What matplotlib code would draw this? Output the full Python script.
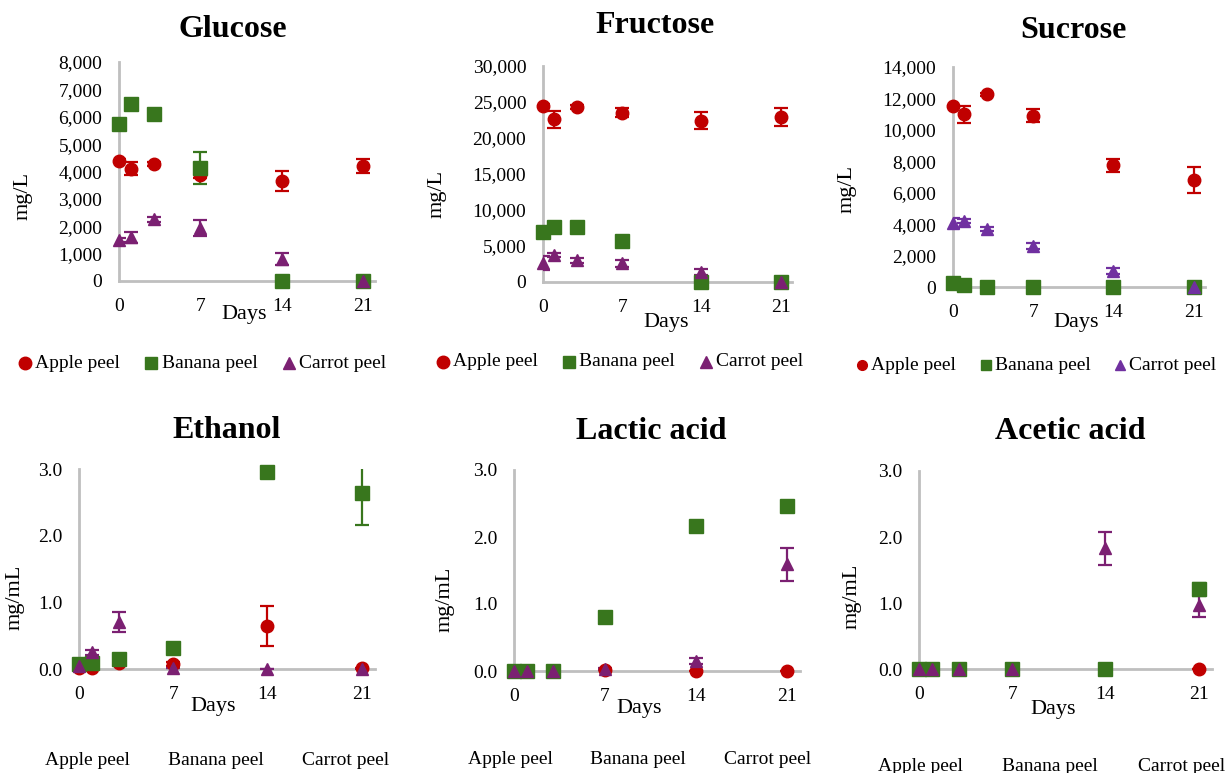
import matplotlib
matplotlib.use('Agg')
import matplotlib.pyplot as plt
from matplotlib.lines import Line2D
from matplotlib.ticker import StrMethodFormatter

plt.rcParams['font.family'] = ['Liberation Serif', 'DejaVu Serif']

days = [0, 1, 3, 7, 14, 21]
series_names = ['Apple peel', 'Banana peel', 'Carrot peel']

# Sugars, mg/L
glucose_apple = [4380, 4100, 4270, 3880, 3650, 4200]
glucose_apple_err = [60, 240, 80, 120, 350, 250]
glucose_banana = [5730, 6460, 6100, 4130, 0, 0]
glucose_banana_err = [80, 150, 60, 580, 0, 0]
glucose_carrot = [1500, 1600, 2250, 1930, 800, 0]
glucose_carrot_err = [60, 200, 100, 290, 210, 0]

fructose_apple = [24400, 22600, 24300, 23500, 22400, 22900]
fructose_apple_err = [300, 1200, 300, 600, 1150, 1200]
fructose_banana = [6900, 7700, 7600, 5700, 0, 0]
fructose_banana_err = [200, 200, 200, 200, 0, 0]
fructose_carrot = [2600, 3750, 3000, 2600, 1400, 0]
fructose_carrot_err = [950, 300, 300, 500, 400, 0]

sucrose_apple = [11500, 11000, 12270, 10900, 7750, 6800]
sucrose_apple_err = [100, 550, 100, 400, 410, 840]
sucrose_banana = [250, 100, 0, 0, 0, 0]
sucrose_banana_err = [50, 50, 0, 0, 0, 0]
sucrose_carrot = [4100, 4200, 3700, 2600, 1000, 0]
sucrose_carrot_err = [320, 100, 150, 200, 200, 0]

# Fermentation products, mg/mL
ethanol_apple = [0.01, 0.01, 0.09, 0.08, 0.645, 0.01]
ethanol_apple_err = [0.01, 0.01, 0.03, 0.03, 0.30, 0.01]
ethanol_banana = [0.07, 0.09, 0.15, 0.31, 2.95, 2.64]
ethanol_banana_err = [0.01, 0.02, 0.02, 0.02, 0.02, 0.48]
ethanol_carrot = [0.05, 0.25, 0.71, 0.01, 0.0, 0.0]
ethanol_carrot_err = [0.01, 0.04, 0.15, 0.0, 0.0, 0.0]

lactic_apple = [0.0, 0.0, 0.0, 0.01, 0.0, 0.0]
lactic_apple_err = [0, 0, 0, 0, 0, 0]
lactic_banana = [0.0, 0.0, 0.0, 0.81, 2.16, 2.46]
lactic_banana_err = [0, 0, 0, 0.03, 0.03, 0.03]
lactic_carrot = [0.0, 0.0, 0.0, 0.03, 0.15, 1.59]
lactic_carrot_err = [0, 0, 0, 0.01, 0.05, 0.25]

acetic_apple = [0.0, 0.0, 0.0, 0.0, 0.0, 0.0]
acetic_apple_err = [0, 0, 0, 0, 0, 0]
acetic_banana = [0.0, 0.0, 0.0, 0.0, 0.0, 1.21]
acetic_banana_err = [0, 0, 0, 0, 0, 0.1]
acetic_carrot = [0.0, 0.0, 0.0, 0.0, 1.83, 0.97]
acetic_carrot_err = [0, 0, 0, 0, 0.25, 0.18]

RED = '#C00000'
GREEN = '#38761D'
PURPLE = '#7B2072'
PURPLE2 = '#7030A0'
AXIS = '#BFBFBF'
W, H = 1227, 773

fig = plt.figure(figsize=(W / 100, H / 100), dpi=100)


def fx(x):
    return x / W


def fy(y):
    return 1 - y / H


panels = [
    dict(title='Glucose', box=(119, 375, 62, 281), ymax=8000, step=1000, fmt='{x:,.0f}', ylabel='mg/L',
         data=[(glucose_apple, glucose_apple_err), (glucose_banana, glucose_banana_err),
               (glucose_carrot, glucose_carrot_err)],
         purple=PURPLE, title_xy=(233, 37), days_xy=(244, 319), ylab_xy=(23, 196),
         legend=dict(y=363, marks=(25, 151, 289), texts=(35, 162, 299), ms=9)),
    dict(title='Fructose', box=(543, 792, 66, 282), ymax=30000, step=5000, fmt='{x:,.0f}', ylabel='mg/L',
         data=[(fructose_apple, fructose_apple_err), (fructose_banana, fructose_banana_err),
               (fructose_carrot, fructose_carrot_err)],
         purple=PURPLE, title_xy=(655, 33), days_xy=(666, 327), ylab_xy=(437, 194),
         legend=dict(y=362, marks=(443, 569, 706), texts=(453, 579, 716), ms=9)),
    dict(title='Sucrose', box=(953, 1205, 67, 287), ymax=14000, step=2000, fmt='{x:,.0f}', ylabel='mg/L',
         data=[(sucrose_apple, sucrose_apple_err), (sucrose_banana, sucrose_banana_err),
               (sucrose_carrot, sucrose_carrot_err)],
         purple=PURPLE2, title_xy=(1073, 38), days_xy=(1076, 327), ylab_xy=(847, 189),
         legend=dict(y=365, marks=(862, 986, 1120), texts=(871, 995, 1129), ms=7)),
    dict(title='Ethanol', box=(79, 375, 469, 669), ymax=3.0, step=1.0, fmt='{x:.1f}', ylabel='mg/mL',
         data=[(ethanol_apple, ethanol_apple_err), (ethanol_banana, ethanol_banana_err),
               (ethanol_carrot, ethanol_carrot_err)],
         purple=PURPLE, title_xy=(227, 438), days_xy=(213, 711), ylab_xy=(15, 597),
         legend=dict(y=765, centers=(87, 216, 346))),
    dict(title='Lactic acid', box=(514, 800, 470, 671), ymax=3.0, step=1.0, fmt='{x:.1f}', ylabel='mg/mL',
         data=[(lactic_apple, lactic_apple_err), (lactic_banana, lactic_banana_err),
               (lactic_carrot, lactic_carrot_err)],
         purple=PURPLE, title_xy=(651, 439), days_xy=(639, 713), ylab_xy=(445, 599),
         legend=dict(y=764, centers=(510, 638, 768))),
    dict(title='Acetic acid', box=(919, 1212, 471, 669), ymax=3.0, step=1.0, fmt='{x:.1f}', ylabel='mg/mL',
         data=[(acetic_apple, acetic_apple_err), (acetic_banana, acetic_banana_err),
               (acetic_carrot, acetic_carrot_err)],
         purple=PURPLE, title_xy=(1070, 439), days_xy=(1053, 714), ylab_xy=(852, 596),
         legend=dict(y=771, centers=(920, 1050, 1182))),
]

markers = ['o', 's', '^']
msizes = [9, 9.5, 9]

for p in panels:
    l, r, t, b = p['box']
    ax = fig.add_axes([fx(l), fy(b), (r - l) / W, (b - t) / H])
    colors = [RED, GREEN, p['purple']]
    for (vals, errs), c, m, ms in zip(p['data'], colors, markers, msizes):
        line, caps, bars = ax.errorbar(days, vals, yerr=errs, fmt=m, color=c, ecolor=c,
                                       markersize=ms, capsize=5, elinewidth=1.6, capthick=1.6,
                                       zorder=3)
        line.set_clip_on(False)
    ax.set_xlim(0, 22)
    ax.set_ylim(0, p['ymax'])
    ax.set_xticks([0, 7, 14, 21])
    n = int(round(p['ymax'] / p['step']))
    ax.set_yticks([i * p['step'] for i in range(n + 1)])
    ax.yaxis.set_major_formatter(StrMethodFormatter(p['fmt']))
    ax.tick_params(length=0, labelsize=14)
    ax.tick_params(axis='x', pad=12)
    ax.tick_params(axis='y', pad=12)
    for s in ['top', 'right']:
        ax.spines[s].set_visible(False)
    for s in ['left', 'bottom']:
        ax.spines[s].set_color(AXIS)
        ax.spines[s].set_linewidth(2)
    ax.patch.set_alpha(0)

    fig.text(fx(p['title_xy'][0]), fy(p['title_xy'][1]), p['title'], ha='center', va='baseline',
             fontsize=23, fontweight='bold')
    fig.text(fx(p['days_xy'][0]), fy(p['days_xy'][1]), 'Days', ha='center', va='baseline', fontsize=16)
    fig.text(fx(p['ylab_xy'][0]), fy(p['ylab_xy'][1]), p['ylabel'], ha='center', va='center',
             rotation=90, fontsize=16)

    lg = p['legend']
    if 'marks' in lg:
        for name, c, m, mx, tx in zip(series_names, colors, markers, lg['marks'], lg['texts']):
            fig.add_artist(Line2D([fx(mx)], [fy(lg['y'])], marker=m, color=c, markersize=lg['ms'],
                                  linestyle='none', transform=fig.transFigure))
            fig.text(fx(tx), fy(lg['y']), name, ha='left', va='center', fontsize=14)
    else:
        for name, cx in zip(series_names, lg['centers']):
            fig.text(fx(cx), fy(lg['y']), name, ha='center', va='baseline', fontsize=14)

fig.savefig('out.png', dpi=100)
